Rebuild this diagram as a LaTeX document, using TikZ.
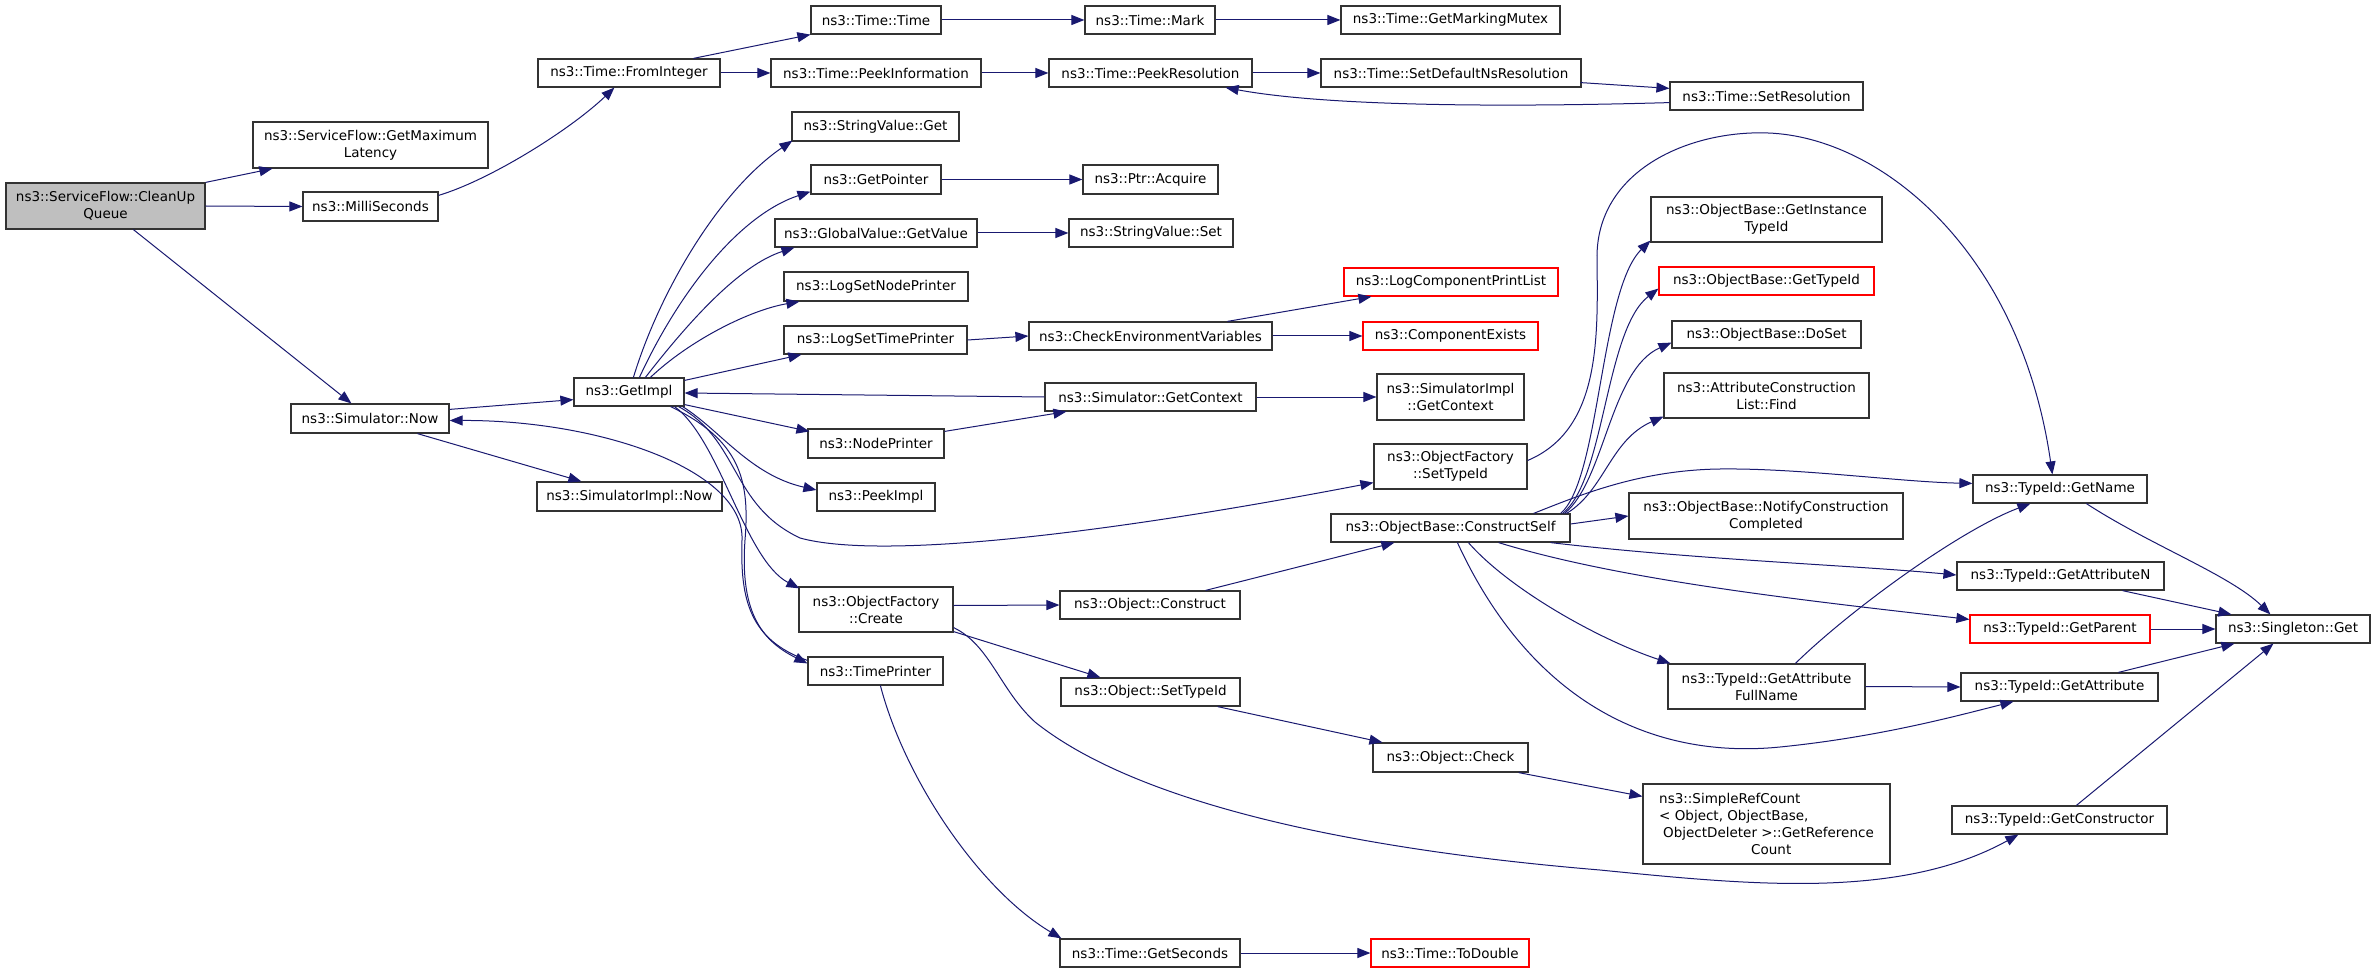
\documentclass[tikz,border=0pt]{standalone}
\usepackage{fontspec}
\setmainfont{DejaVu Sans}
\usetikzlibrary{arrows.meta,calc}
\definecolor{edgeblue}{HTML}{191970}
\newcommand\gvnode[6]{\node[#1,minimum width={#4-#2},minimum height={#5-#3}] (#6) at ({(#2+#4)/2},{(#3+#5)/2})}
\begin{document}
\begin{tikzpicture}[x=1pt,y=-1pt,
  nbox/.style={draw=black!80,line width=1.2pt,fill=white,inner sep=0pt,align=center,font=\fontsize{13.5}{17}\selectfont},
  redbox/.style={nbox,draw=red},
  rootbox/.style={nbox,fill=gray!50},
  edge/.style={draw=edgeblue,line width=1pt,-{Triangle[length=13pt,width=10pt]}}]
\fill[white] (0,0) rectangle (2376,973);
\useasboundingbox (0,0) rectangle (2376,973);

% nodes
\gvnode{rootbox}{6}{183}{205}{229}{cq} {ns3::ServiceFlow::CleanUp\\Queue};
\gvnode{nbox}{253}{122}{488}{168}{gml} {ns3::ServiceFlow::GetMaximum\\Latency};
\gvnode{nbox}{303}{192}{438}{221}{ms} {ns3::MilliSeconds};
\gvnode{nbox}{538}{59}{720}{87}{fi} {ns3::Time::FromInteger};
\gvnode{nbox}{291}{404}{449}{433}{sn} {ns3::Simulator::Now};
\gvnode{nbox}{537}{482}{722}{511}{sin} {ns3::SimulatorImpl::Now};
\gvnode{nbox}{574}{378}{684}{406}{gi} {ns3::GetImpl};
\gvnode{nbox}{811}{6}{941}{34}{tt} {ns3::Time::Time};
\gvnode{nbox}{1085}{6}{1215}{34}{tm} {ns3::Time::Mark};
\gvnode{nbox}{1341}{6}{1560}{34}{gmm} {ns3::Time::GetMarkingMutex};
\gvnode{nbox}{771}{59}{981}{87}{pi} {ns3::Time::PeekInformation};
\gvnode{nbox}{1049}{59}{1252}{87}{pr} {ns3::Time::PeekResolution};
\gvnode{nbox}{1321}{59}{1581}{87}{sdn} {ns3::Time::SetDefaultNsResolution};
\gvnode{nbox}{1670}{82}{1863}{110}{sr} {ns3::Time::SetResolution};
\gvnode{nbox}{792}{112}{959}{141}{svg} {ns3::StringValue::Get};
\gvnode{nbox}{811}{165}{941}{194}{gp} {ns3::GetPointer};
\gvnode{nbox}{1083}{165}{1218}{194}{pa} {ns3::Ptr::Acquire};
\gvnode{nbox}{775}{219}{977}{247}{gv} {ns3::GlobalValue::GetValue};
\gvnode{nbox}{1069}{219}{1233}{247}{svs} {ns3::StringValue::Set};
\gvnode{nbox}{784}{272}{968}{301}{lsn} {ns3::LogSetNodePrinter};
\gvnode{nbox}{784}{326}{967}{354}{lst} {ns3::LogSetTimePrinter};
\gvnode{nbox}{1029}{322}{1272}{350}{cev} {ns3::CheckEnvironmentVariables};
\gvnode{redbox}{1344}{268}{1558}{296}{lcpl} {ns3::LogComponentPrintList};
\gvnode{redbox}{1363}{322}{1538}{350}{ce} {ns3::ComponentExists};
\gvnode{nbox}{1045}{383}{1256}{411}{sgc} {ns3::Simulator::GetContext};
\gvnode{nbox}{1377}{374}{1524}{420}{sigc} {ns3::SimulatorImpl\\::GetContext};
\gvnode{nbox}{808}{429}{944}{458}{np} {ns3::NodePrinter};
\gvnode{nbox}{1374}{444}{1527}{489}{ofst} {ns3::ObjectFactory\\::SetTypeId};
\gvnode{nbox}{817}{483}{935}{511}{pimpl} {ns3::PeekImpl};
\gvnode{nbox}{799}{587}{953}{632}{ofc} {ns3::ObjectFactory\\::Create};
\gvnode{nbox}{1060}{591}{1240}{619}{oc} {ns3::Object::Construct};
\gvnode{nbox}{808}{657}{943}{685}{tp} {ns3::TimePrinter};
\gvnode{nbox}{1061}{678}{1240}{706}{ost} {ns3::Object::SetTypeId};
\gvnode{nbox}{1373}{743}{1528}{772}{ochk} {ns3::Object::Check};
\gvnode{nbox}{1060}{939}{1240}{967}{gs} {ns3::Time::GetSeconds};
\gvnode{redbox}{1371}{939}{1529}{967}{td} {ns3::Time::ToDouble};
\gvnode{nbox}{1331}{514}{1570}{542}{cs} {ns3::ObjectBase::ConstructSelf};
\gvnode{nbox}{1651}{197}{1882}{242}{git} {ns3::ObjectBase::GetInstance\\TypeId};
\gvnode{redbox}{1659}{267}{1874}{295}{gtid} {ns3::ObjectBase::GetTypeId};
\gvnode{nbox}{1672}{321}{1861}{348}{ds} {ns3::ObjectBase::DoSet};
\gvnode{nbox}{1664}{373}{1869}{418}{fnd} {ns3::AttributeConstruction\\List::Find};
\gvnode{nbox}{1629}{493}{1903}{539}{ncc} {ns3::ObjectBase::NotifyConstruction\\Completed};
\gvnode{nbox}{1973}{475}{2147}{503}{gn} {ns3::TypeId::GetName};
\gvnode{nbox}{1957}{562}{2164}{590}{gan} {ns3::TypeId::GetAttributeN};
\gvnode{redbox}{1970}{615}{2150}{643}{gpar} {ns3::TypeId::GetParent};
\gvnode{nbox}{2216}{615}{2370}{643}{sg} {ns3::Singleton::Get};
\gvnode{nbox}{1668}{664}{1865}{709}{gafn} {ns3::TypeId::GetAttribute\\FullName};
\gvnode{nbox}{1961}{673}{2158}{701}{ga} {ns3::TypeId::GetAttribute};
\gvnode{nbox,align=left}{1643}{784}{1890}{864}{src} {ns3::SimpleRefCount\\< Object, ObjectBase,\\\hspace*{4pt}ObjectDeleter >::GetReference\\\hspace*{92pt}Count};
\gvnode{nbox}{1952}{806}{2167}{834}{gc} {ns3::TypeId::GetConstructor};

% edges
\draw[edge] (cq.north east) -- ($(gml.south west)+(20,0)$);
\draw[edge] (cq.east) -- (ms.west);
\draw[edge] ($(cq.south west)+(128,0)$) -- ($(sn.north west)+(61,0)$);
\draw[edge] ($(ms.north east)+(0,4)$) .. controls (490,180) and (570,130) .. ($(fi.south west)+(77,0)$);
\draw[edge] ($(fi.north west)+(156,0)$) -- (tt.south west);
\draw[edge] (fi.east) -- (pi.west);
\draw[edge] (tt.east) -- (tm.west);
\draw[edge] (tm.east) -- (gmm.west);
\draw[edge] (pi.east) -- (pr.west);
\draw[edge] (pr.east) -- (sdn.west);
\draw[edge] ($(sdn.south east)+(-1,-5)$) -- ($(sr.north west)+(0,7)$);
\draw[edge] ($(sr.south west)+(0,-8)$) .. controls (1480,108) and (1320,105) .. ($(pr.south east)+(-27,0)$);
\draw[edge] ($(sn.north east)+(0,6)$) -- ($(gi.south west)+(0,-7)$);
\draw[edge] ($(sn.south west)+(127,0)$) -- ($(sin.north west)+(45,0)$);
\draw[edge] ($(gi.north west)+(60,0)$) .. controls (660,290) and (720,190) .. ($(svg.south west)+(1,-1)$);
\draw[edge] ($(gi.north west)+(66,0)$) .. controls (680,290) and (740,215) .. ($(gp.south west)+(0,-3)$);
\draw[edge] ($(gi.north west)+(72,0)$) .. controls (690,320) and (740,265) .. ($(gv.south west)+(20,0)$);
\draw[edge] ($(gi.north west)+(77,0)$) .. controls (690,340) and (750,310) .. ($(lsn.south west)+(16,0)$);
\draw[edge] ($(gi.north east)+(0,3)$) -- ($(lst.south west)+(18,0)$);
\draw[edge] (sgc.west) -- ($(gi.east)+(0,1)$);
\draw[edge] ($(gi.south east)+(0,-2)$) -- ($(np.north west)+(2,3)$);
\draw[edge] ($(gi.south east)+(-2,0)$) .. controls (720,430) and (750,475) .. ($(pimpl.west)+(0,-7)$);
\draw[edge] ($(gi.south east)+(-6,0)$) .. controls (740,440) and (730,505) .. (800,538) .. controls (880,560) and (1100,535) .. ($(ofst.south west)+(0,-7)$);
\draw[edge] ($(gi.south east)+(-10,0)$) .. controls (720,440) and (745,560) .. ($(ofc.north west)+(1,2)$);
\draw[edge] ($(gi.south east)+(-14,0)$) .. controls (740,440) and (750,480) .. (745,540) .. controls (740,610) and (760,640) .. ($(tp.north west)+(0,7)$);
\draw[edge] ($(tp.north west)+(0,4)$) .. controls (750,640) and (740,600) .. (742,540) .. controls (745,470) and (600,420) .. ($(sn.east)+(0,2)$);
\draw[edge] (gp.east) -- (pa.west);
\draw[edge] (gv.east) -- (svs.west);
\draw[edge] (lst.east) -- (cev.west);
\draw[edge] ($(cev.north west)+(199,0)$) -- ($(lcpl.south west)+(28,0)$);
\draw[edge] (cev.east) -- (ce.west);
\draw[edge] (sgc.east) -- (sigc.west);
\draw[edge] ($(np.north east)+(0,3)$) -- ($(sgc.south west)+(22,0)$);
\draw[edge] ($(ofst.east)+(0,-6)$) .. controls (1600,430) and (1598,340) .. (1597,260) .. controls (1595,170) and (1690,130) .. (1768,133) .. controls (1880,137) and (2020,250) .. ($(gn.north west)+(80,0)$);
\draw[edge] ($(cs.north east)+(-10,0)$) .. controls (1600,480) and (1600,290) .. ($(git.south west)+(0,-2)$);
\draw[edge] ($(cs.north east)+(-8,0)$) .. controls (1605,480) and (1605,330) .. ($(gtid.south west)+(0,-7)$);
\draw[edge] ($(cs.north east)+(-6,0)$) .. controls (1605,480) and (1610,370) .. ($(ds.south west)+(0,-6)$);
\draw[edge] ($(cs.north east)+(-4,0)$) .. controls (1605,490) and (1610,440) .. ($(fnd.south west)+(0,-2)$);
\draw[edge] ($(cs.north east)+(-37,0)$) .. controls (1580,495) and (1640,470) .. (1720,469) .. controls (1800,468) and (1900,482) .. ($(gn.north west)+(0,9)$);
\draw[edge] ($(cs.east)+(0,-4)$) -- (ncc.west);
\draw[edge] ($(cs.south east)+(-20,0)$) .. controls (1700,560) and (1850,565) .. ($(gan.west)+(0,-1)$);
\draw[edge] ($(cs.south east)+(-72,0)$) .. controls (1620,580) and (1800,600) .. ($(gpar.north west)+(0,5)$);
\draw[edge] ($(cs.south west)+(138,0)$) .. controls (1510,590) and (1600,640) .. ($(gafn.north west)+(3,0)$);
\draw[edge] ($(cs.south west)+(127,0)$) .. controls (1530,700) and (1650,760) .. (1780,747) .. controls (1880,737) and (1960,715) .. ($(ga.south west)+(53,0)$);
\draw[edge] ($(oc.north east)+(-35,0)$) -- ($(cs.south west)+(64,0)$);
\draw[edge] ($(ofc.east)+(0,-4)$) -- (oc.west);
\draw[edge] ($(ofc.south east)+(0,-1)$) -- ($(ost.north west)+(40,0)$);
\draw[edge] ($(ofc.south east)+(0,-5)$) .. controls (990,645) and (1000,690) .. (1035,722) .. controls (1120,790) and (1300,845) .. (1600,870) .. controls (1750,885) and (1900,900) .. ($(gc.south west)+(67,0)$);
\draw[edge] ($(ost.south east)+(-23,0)$) -- ($(ochk.north west)+(10,0)$);
\draw[edge] ($(ochk.south east)+(-10,0)$) -- ($(src.north west)+(0,13)$);
\draw[edge] ($(tp.south west)+(73,0)$) .. controls (905,780) and (980,890) .. ($(gs.north west)+(2,0)$);
\draw[edge] (gs.east) -- (td.west);
\draw[edge] ($(gn.south west)+(114,0)$) .. controls (2150,545) and (2230,575) .. ($(sg.north west)+(55,0)$);
\draw[edge] ($(gan.south west)+(166,0)$) -- ($(sg.north west)+(16,0)$);
\draw[edge] (gpar.east) -- (sg.west);
\draw[edge] ($(ga.north west)+(158,0)$) -- ($(sg.south west)+(19,0)$);
\draw[edge] ($(gc.north west)+(125,0)$) -- ($(sg.south west)+(58,0)$);
\draw[edge] ($(gafn.north west)+(128,0)$) .. controls (1850,610) and (1960,530) .. ($(gn.south west)+(58,0)$);
\draw[edge] (gafn.east) -- (ga.west);
\end{tikzpicture}
\end{document}
